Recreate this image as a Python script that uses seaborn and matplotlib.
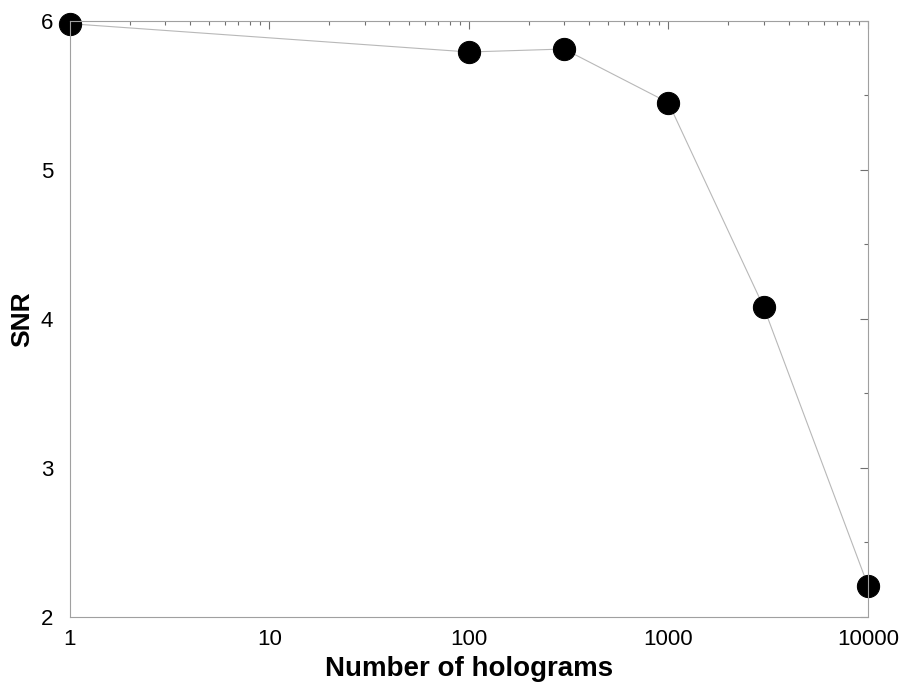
import pandas as pd
import matplotlib.pyplot as plt
import seaborn as sns
from matplotlib.ticker import FixedLocator, LogLocator, NullFormatter

# Values
holograms = [1, 100, 300, 1000, 3000, 10000]
snr = [5.98, 5.79, 5.81, 5.45, 4.08, 2.21]

df = pd.DataFrame({"holograms": holograms, "snr": snr})

sns.set_style("white")
plt.rcParams['font.family'] = ['Liberation Sans', 'DejaVu Sans']

fig = plt.figure(figsize=(9.06, 6.90), dpi=100)
ax = fig.add_axes([0.077, 0.106, 0.881, 0.864])

sns.lineplot(data=df, x="holograms", y="snr", ax=ax,
             color="#b8b8b8", linewidth=0.8,
             marker="o", markersize=16,
             markerfacecolor="black", markeredgecolor="black",
             clip_on=False)

ax.set_xscale("log")
ax.set_xlim(1, 10000)
ax.set_ylim(2, 6)
ax.set_xticks([1, 10, 100, 1000, 10000])
ax.set_xticklabels(["1", "10", "100", "1000", "10000"])
ax.xaxis.set_minor_locator(LogLocator(base=10, subs=range(2, 10)))
ax.xaxis.set_minor_formatter(NullFormatter())
ax.set_yticks([2, 3, 4, 5, 6])
ax.yaxis.set_minor_locator(FixedLocator([2.5, 3.5, 4.5, 5.5]))

for s in ax.spines.values():
    s.set_color("#a0a0a0")
    s.set_linewidth(0.8)

ax.tick_params(which="both", direction="in", top=True, right=True,
               color="#707070", width=0.8, labelcolor="black")
ax.tick_params(which="major", length=6, labelsize=16)
ax.tick_params(axis="x", which="major", pad=9)
ax.tick_params(axis="y", which="major", pad=12)
ax.tick_params(which="minor", length=3)

ax.set_xlabel("Number of holograms", fontsize=20, fontweight="bold",
              labelpad=4, color="black")
ax.set_ylabel("SNR", fontsize=19, fontweight="bold", labelpad=5,
              color="black")

fig.savefig("out.png", dpi=100)
